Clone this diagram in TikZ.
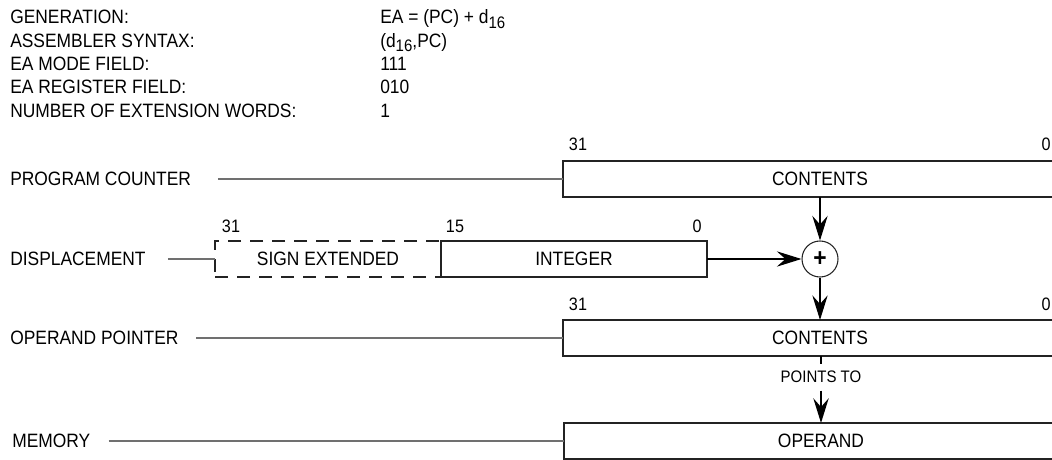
\documentclass[tikz,border=0pt]{standalone}
\usepackage{fontspec}
\setmainfont{Liberation Sans}[FakeStretch=0.9]
\usepackage{tikz}
\usetikzlibrary{arrows.meta,positioning}
\definecolor{leadgray}{RGB}{112,112,112}
\definecolor{boxline}{RGB}{35,35,35}
\newcommand{\lowsub}[1]{\raisebox{-0.45ex}{\fontsize{12.5}{12.5}\selectfont #1}}

\begin{document}
\begin{tikzpicture}[x=0.75pt,y=-0.75pt,
    txt/.style={font=\fontsize{14.5}{16}\selectfont, inner sep=0pt},
    bitno/.style={font=\fontsize{13.5}{15}\selectfont, inner sep=0pt, anchor=base},
    regbox/.style={draw=boxline, line width=1.1pt, minimum height=27pt, inner sep=0pt, outer sep=0pt,
                   font=\fontsize{14.5}{16}\selectfont},
    lead/.style={draw=leadgray, line width=1.1pt, shorten <=13pt},
    flow/.style={-{Stealth[length=18.5pt,width=11.5pt,inset=6.5pt]}, line width=0.8pt},
  ]
    \useasboundingbox (0,0) rectangle (1052,460);

    % addressing mode summary
    \foreach \lab/\val [count=\i] in {GENERATION:/{EA = (PC) + d\lowsub{16}},
        ASSEMBLER SYNTAX:/{(d\lowsub{16},PC)}, EA MODE FIELD:/111,
        EA REGISTER FIELD:/010, NUMBER OF EXTENSION WORDS:/1} {
      \node[txt, anchor=base west] (hlab\i) at (10,{0.5+23.3*\i}) {\lab};
      \node[txt, anchor=base west] (hval\i) at (380,{0.5+23.3*\i}) {\val};
    }

    % program counter
    \node[txt, anchor=west] (pcname) at (10,179) {PROGRAM COUNTER};
    \node[regbox, minimum width=385.5pt] (pcreg) at (820,179) {CONTENTS};
    \node[bitno] (pchi) at (578,150) {31};
    \node[bitno] (pclo) at (1046,150) {0};
    \draw[lead, shorten <=20pt] (pcname.east) -- (pcreg.west);

    % displacement, sign extended to 32 bits
    \node[txt, anchor=west] (dispname) at (10,259) {DISPLACEMENT};
    \node[regbox, dash pattern=on 10pt off 6.5pt, minimum width=169.5pt] (signext) at (328,259) {SIGN EXTENDED};
    \node[regbox, minimum width=199.5pt, right=0pt of signext] (intreg) {INTEGER};
    \node[bitno] (dhi) at (231,232) {31};
    \node[bitno] (dmid) at (455,232) {15};
    \node[bitno] (dlo) at (697,232) {0};
    \draw[lead, shorten <=16.5pt] (dispname.east) -- (signext.west);

    % adder
    \node[draw=boxline, circle, line width=0.8pt, minimum size=27pt, inner sep=0pt,
          font=\fontsize{19}{19}\selectfont\bfseries] (adder) at (820,259) {+};
    \draw[flow] (intreg) -- (adder);
    \draw[flow] (pcreg.south -| adder) -- (adder);

    % operand pointer
    \node[txt, anchor=west] (opname) at (10,338) {OPERAND POINTER};
    \node[regbox, minimum width=385.5pt] (opreg) at (820,338) {CONTENTS};
    \node[bitno] (ophi) at (578,310) {31};
    \node[bitno] (oplo) at (1046,310) {0};
    \draw[lead] (opname.east) -- (opreg.west);
    \draw[flow] (adder) -- (adder |- opreg.north);

    % memory
    \node[txt, anchor=west] (memname) at (12,441) {MEMORY};
    \node[regbox, minimum width=385.5pt] (memreg) at (821,441) {OPERAND};
    \draw[lead, shorten <=13.5pt] (memname.east) -- (memreg.west);

    \node[font=\fontsize{12.5}{14}\selectfont, inner xsep=0pt, inner ysep=5.5pt] (ptr) at (821,377) {POINTS TO};
    \draw[line width=1.8pt] (opreg.south -| ptr) -- (ptr);
    \draw[flow, line width=1.8pt] (ptr) -- (ptr |- memreg.north);
\end{tikzpicture}
\end{document}
